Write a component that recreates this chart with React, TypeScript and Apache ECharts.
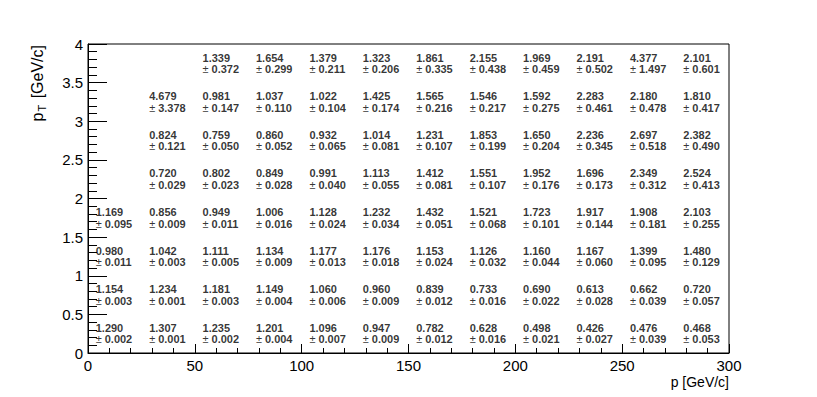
import React, { useEffect, useRef } from "react";
import * as echarts from "echarts";

// Bin edges
const xEdges = [0, 25, 50, 75, 100, 125, 150, 175, 200, 225, 250, 275, 300];
const yEdges = [0, 0.5, 1, 1.5, 2, 2.5, 3, 3.5, 4];

// Tick values
const xTicks = [0, 50, 100, 150, 200, 250, 300];
const yTicks = [0, 0.5, 1, 1.5, 2, 2.5, 3, 3.5, 4];

// Cell values, rows from pT bin 0-0.5 (row0) up to 3.5-4 (row7); null = empty
const row0 = [1.29, 1.307, 1.235, 1.201, 1.096, 0.947, 0.782, 0.628, 0.498, 0.426, 0.476, 0.468];
const row1 = [1.154, 1.234, 1.181, 1.149, 1.06, 0.96, 0.839, 0.733, 0.69, 0.613, 0.662, 0.72];
const row2 = [0.98, 1.042, 1.111, 1.134, 1.177, 1.176, 1.153, 1.126, 1.16, 1.167, 1.399, 1.48];
const row3 = [1.169, 0.856, 0.949, 1.006, 1.128, 1.232, 1.432, 1.521, 1.723, 1.917, 1.908, 2.103];
const row4 = [null, 0.72, 0.802, 0.849, 0.991, 1.113, 1.412, 1.551, 1.952, 1.696, 2.349, 2.524];
const row5 = [null, 0.824, 0.759, 0.86, 0.932, 1.014, 1.231, 1.853, 1.65, 2.236, 2.697, 2.382];
const row6 = [null, 4.679, 0.981, 1.037, 1.022, 1.425, 1.565, 1.546, 1.592, 2.283, 2.18, 1.81];
const row7 = [null, null, 1.339, 1.654, 1.379, 1.323, 1.861, 2.155, 1.969, 2.191, 4.377, 2.101];

// Cell errors
const err0 = [0.002, 0.001, 0.002, 0.004, 0.007, 0.009, 0.012, 0.016, 0.021, 0.027, 0.039, 0.053];
const err1 = [0.003, 0.001, 0.003, 0.004, 0.006, 0.009, 0.012, 0.016, 0.022, 0.028, 0.039, 0.057];
const err2 = [0.011, 0.003, 0.005, 0.009, 0.013, 0.018, 0.024, 0.032, 0.044, 0.06, 0.095, 0.129];
const err3 = [0.095, 0.009, 0.011, 0.016, 0.024, 0.034, 0.051, 0.068, 0.101, 0.144, 0.181, 0.255];
const err4 = [null, 0.029, 0.023, 0.028, 0.04, 0.055, 0.081, 0.107, 0.176, 0.173, 0.312, 0.413];
const err5 = [null, 0.121, 0.05, 0.052, 0.065, 0.081, 0.107, 0.199, 0.204, 0.345, 0.518, 0.49];
const err6 = [null, 3.378, 0.147, 0.11, 0.104, 0.174, 0.216, 0.217, 0.275, 0.461, 0.478, 0.417];
const err7 = [null, null, 0.372, 0.299, 0.211, 0.206, 0.335, 0.438, 0.459, 0.502, 1.497, 0.601];

const valueRows = [row0, row1, row2, row3, row4, row5, row6, row7];
const errorRows = [err0, err1, err2, err3, err4, err5, err6, err7];

const xTitle = "p [GeV/c]";
const FONT = "'Liberation Sans', Arial, Helvetica, sans-serif";

export default function App() {
  const ref = useRef<HTMLDivElement>(null);

  useEffect(() => {
    if (!ref.current) return;
    const chart = echarts.init(ref.current, undefined, { renderer: "svg" });

    const data: any[] = [];
    valueRows.forEach((row, j) => {
      row.forEach((v, i) => {
        const e = errorRows[j][i];
        if (v === null || e === null) return;
        const xc = (xEdges[i] + xEdges[i + 1]) / 2;
        const yc = (yEdges[j] + yEdges[j + 1]) / 2;
        data.push([xc, yc, v, e]);
      });
    });

    const option: any = {
      animation: false,
      backgroundColor: "#ffffff",
      textStyle: { fontFamily: FONT },
      grid: {
        left: 88,
        right: 88,
        top: 44,
        bottom: 44,
        show: true,
        borderColor: "#000",
        borderWidth: 1,
        backgroundColor: "transparent",
        containLabel: false,
      },
      xAxis: {
        type: "value",
        min: xTicks[0],
        max: xTicks[xTicks.length - 1],
        interval: 50,
        axisLine: { show: true, lineStyle: { color: "#000", width: 1 } },
        axisTick: { show: true, inside: true, length: 9, lineStyle: { color: "#000" } },
        minorTick: { show: true, splitNumber: 5, length: 5, lineStyle: { color: "#000" } },
        splitLine: { show: false },
        minorSplitLine: { show: false },
        axisLabel: { color: "#000", fontSize: 15, fontFamily: FONT, margin: 5 },
      },
      yAxis: {
        type: "value",
        min: yTicks[0],
        max: yTicks[yTicks.length - 1],
        interval: 0.5,
        axisLine: { show: true, lineStyle: { color: "#000", width: 1 } },
        axisTick: { show: true, inside: true, length: 19, lineStyle: { color: "#000" } },
        minorTick: { show: true, splitNumber: 5, length: 9, lineStyle: { color: "#000" } },
        splitLine: { show: false },
        minorSplitLine: { show: false },
        axisLabel: { color: "#000", fontSize: 15, fontFamily: FONT, margin: 5 },
      },
      series: [
        {
          type: "scatter",
          data,
          symbolSize: 0,
          itemStyle: { color: "transparent" },
          encode: { x: 0, y: 1 },
          label: {
            show: true,
            position: "inside",
            align: "center",
            verticalAlign: "middle",
            formatter: (p: any) => {
              const v = p.data[2] as number;
              const e = p.data[3] as number;
              return `{v|${v.toFixed(3)}}\n{pm|±}{e|${e.toFixed(3)}}`;
            },
            rich: {
              v: { fontSize: 11, fontWeight: "bold", color: "#000", width: 38, align: "left", lineHeight: 11.5, fontFamily: FONT },
              pm: { fontSize: 11, fontWeight: "normal", color: "#000", width: 9, align: "left", lineHeight: 11.5, fontFamily: FONT },
              e: { fontSize: 11, fontWeight: "bold", color: "#000", width: 29, align: "left", lineHeight: 11.5, fontFamily: FONT },
            },
          },
        },
      ],
      graphic: [
        {
          type: "text",
          x: 729,
          y: 382,
          style: {
            text: xTitle,
            fontSize: 14,
            fontFamily: FONT,
            fill: "#000",
            align: "right",
            verticalAlign: "middle",
          },
        },
        {
          type: "text",
          x: 37,
          y: 45,
          rotation: Math.PI / 2,
          style: {
            text: "{a|p}{b|T}{a| [GeV/c]}",
            align: "right",
            verticalAlign: "middle",
            fill: "#000",
            rich: {
              a: { fontSize: 16, fontFamily: FONT, fill: "#000", lineHeight: 20, verticalAlign: "middle" },
              b: { fontSize: 11, fontFamily: FONT, fill: "#000", lineHeight: 11, verticalAlign: "bottom", padding: [0, 2, 0, 1] },
            },
          },
        },
      ],
    };

    chart.setOption(option);
    return () => chart.dispose();
  }, []);

  return (
    <div
      ref={ref}
      style={{ position: "fixed", left: 0, top: 0, width: 817, height: 397, background: "#fff" }}
    />
  );
}
